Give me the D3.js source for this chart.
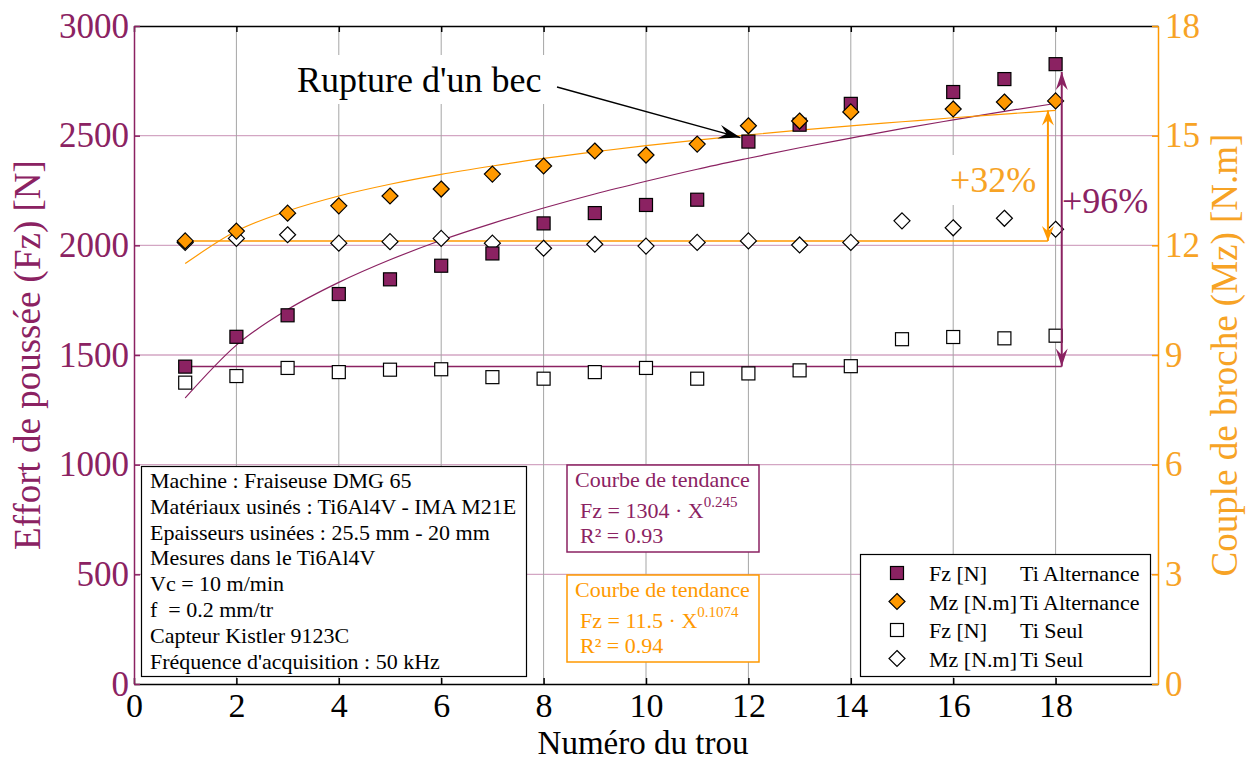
<!DOCTYPE html>
<html>
<head>
<meta charset="utf-8">
<script src="https://cdn.jsdelivr.net/npm/d3@7"></script>
<style>
body { margin: 0; background: #fff; }
text { font-family: "Liberation Serif", "Times New Roman", serif; }
</style>
</head>
<body>
<svg></svg>
<script>
const width = 1247;
const height = 762;

const purple = '#8b2262';
const orange = '#ff9900';
const orangeText = '#f7a325';

// data
const holes = [1, 2, 3, 4, 5, 6, 7, 8, 9, 10, 11, 12, 13, 14, 15, 16, 17, 18];
const altHoles = [1, 2, 3, 4, 5, 6, 7, 8, 9, 10, 11, 12, 13, 14, 16, 17, 18];
const fzAlt = [1447, 1583, 1681, 1778, 1845, 1907, 1963, 2100, 2147, 2184, 2208, 2473, 2550, 2645, 2699, 2758, 2826];
const mzAlt = [12.12, 12.39, 12.88, 13.08, 13.35, 13.54, 13.95, 14.17, 14.58, 14.47, 14.77, 15.27, 15.40, 15.65, 15.73, 15.92, 15.95];
const fzSeul = [1374, 1404, 1441, 1422, 1433, 1435, 1399, 1392, 1422, 1441, 1392, 1416, 1430, 1449, 1572, 1582, 1576, 1588];
const mzSeul = [12.08, 12.19, 12.29, 12.06, 12.10, 12.19, 12.06, 11.92, 12.03, 11.98, 12.08, 12.12, 12.01, 12.08, 12.67, 12.48, 12.74, 12.44];
// trend curves, read at each hole
const fzTrend = [1304, 1545, 1707, 1831, 1934, 2023, 2100, 2170, 2234, 2292, 2347, 2397, 2445, 2489, 2532, 2572, 2611, 2647];
const mzTrend = [11.50, 12.39, 12.94, 13.35, 13.67, 13.94, 14.17, 14.38, 14.56, 14.73, 14.88, 15.02, 15.15, 15.27, 15.38, 15.49, 15.59, 15.69];

const xTicks = [0, 2, 4, 6, 8, 10, 12, 14, 16, 18];
const fzTicks = [0, 500, 1000, 1500, 2000, 2500, 3000];
const mzTicks = [0, 3, 6, 9, 12, 15, 18];

const infoLines = [
    'Machine : Fraiseuse DMG 65',
    'Matériaux usinés : Ti6Al4V - IMA M21E',
    'Epaisseurs usinées : 25.5 mm - 20 mm',
    'Mesures dans le Ti6Al4V',
    'Vc = 10 m/min',
    'f  = 0.2 mm/tr',
    'Capteur Kistler 9123C',
    "Fréquence d'acquisition : 50 kHz"
];

const legendItems = [
    {shape: 'square', fill: purple, name: 'Fz [N]', group: 'Ti Alternance'},
    {shape: 'diamond', fill: orange, name: 'Mz [N.m]', group: 'Ti Alternance'},
    {shape: 'square', fill: '#fff', name: 'Fz [N]', group: 'Ti Seul'},
    {shape: 'diamond', fill: '#fff', name: 'Mz [N.m]', group: 'Ti Seul'}
];

const svg = d3.select('svg')
    .attr('width', width)
    .attr('height', height);

const x = d3.scaleLinear().domain([0, 20]).range([134, 1158]);
const yF = d3.scaleLinear().domain([0, 3000]).range([684, 26]);
const yM = d3.scaleLinear().domain([0, 18]).range([684, 26]);

// grid
svg.append('g').selectAll('line')
    .data(fzTicks.slice(1, -1))
    .enter().append('line')
    .attr('x1', x(0)).attr('x2', x(20))
    .attr('y1', d => yF(d)).attr('y2', d => yF(d))
    .attr('stroke', '#d3a6c3')
    .attr('stroke-width', 1.3);

svg.append('g').selectAll('line')
    .data(xTicks.slice(1))
    .enter().append('line')
    .attr('x1', d => x(d)).attr('x2', d => x(d))
    .attr('y1', yF(3000)).attr('y2', yF(0))
    .attr('stroke', '#a5a5a5')
    .attr('stroke-width', 1);

// axes
const bottomAxis = svg.append('g')
    .attr('transform', `translate(0,${yF(0)})`)
    .call(d3.axisBottom(x).tickValues(xTicks).tickSize(-6).tickSizeOuter(0).tickPadding(9));
bottomAxis.selectAll('text').attr('font-size', 34).attr('fill', '#000');
bottomAxis.selectAll('line, path').attr('stroke', '#000').attr('stroke-width', 1.5);

const topAxis = svg.append('g')
    .attr('transform', `translate(0,${yF(3000)})`)
    .call(d3.axisTop(x).tickValues(xTicks).tickSize(-6).tickSizeOuter(0).tickFormat(''));
topAxis.selectAll('line, path').attr('stroke', '#000').attr('stroke-width', 1.5);

const leftAxis = svg.append('g')
    .attr('transform', `translate(${x(0)},0)`)
    .call(d3.axisLeft(yF).tickValues(fzTicks).tickSize(-6).tickSizeOuter(0).tickPadding(5)
        .tickFormat(d3.format('d')));
leftAxis.selectAll('text').attr('font-size', 35).attr('fill', purple);
leftAxis.selectAll('line, path').attr('stroke', purple).attr('stroke-width', 1.5);

const rightAxis = svg.append('g')
    .attr('transform', `translate(${x(20)},0)`)
    .call(d3.axisRight(yM).tickValues(mzTicks).tickSize(-6).tickSizeOuter(0).tickPadding(7));
rightAxis.selectAll('text').attr('font-size', 35).attr('fill', orangeText);
rightAxis.selectAll('line, path').attr('stroke', orange).attr('stroke-width', 1.5);

svg.append('text')
    .attr('x', 643).attr('y', 754)
    .attr('text-anchor', 'middle')
    .attr('font-size', 33)
    .text('Numéro du trou');

svg.append('text')
    .attr('transform', `translate(40,${(yF(0) + yF(3000)) / 2}) rotate(-90)`)
    .attr('text-anchor', 'middle')
    .attr('font-size', 37)
    .attr('fill', purple)
    .text('Effort de poussée (Fz) [N]');

svg.append('text')
    .attr('transform', `translate(1237,${(yF(0) + yF(3000)) / 2}) rotate(-90)`)
    .attr('text-anchor', 'middle')
    .attr('font-size', 37)
    .attr('fill', orangeText)
    .text('Couple de broche (Mz) [N.m]');

// white backgrounds behind annotation labels
svg.append('rect').attr('x', 290).attr('y', 55).attr('width', 260).attr('height', 49).attr('fill', '#fff');
svg.append('rect').attr('x', 945).attr('y', 155).attr('width', 95).attr('height', 50).attr('fill', '#fff');

// reference lines for the percentages
svg.append('line')
    .attr('x1', x(1)).attr('x2', x(17.85))
    .attr('y1', yM(mzAlt[0])).attr('y2', yM(mzAlt[0]))
    .attr('stroke', orange).attr('stroke-width', 1.5);
svg.append('line')
    .attr('x1', x(1)).attr('x2', x(18.12))
    .attr('y1', yF(fzAlt[0])).attr('y2', yF(fzAlt[0]))
    .attr('stroke', purple).attr('stroke-width', 1.5);

// trend curves
svg.append('path')
    .datum(holes.map((h, i) => [h, fzTrend[i]]))
    .attr('d', d3.line().x(d => x(d[0])).y(d => yF(d[1])).curve(d3.curveMonotoneX))
    .attr('fill', 'none').attr('stroke', purple).attr('stroke-width', 1.2);
svg.append('path')
    .datum(holes.map((h, i) => [h, mzTrend[i]]))
    .attr('d', d3.line().x(d => x(d[0])).y(d => yM(d[1])).curve(d3.curveMonotoneX))
    .attr('fill', 'none').attr('stroke', orange).attr('stroke-width', 1.2);

// markers
const sq = 13;
const diamond = 'M0,-8L8,0L0,8L-8,0Z';

svg.append('g').selectAll('rect')
    .data(holes.map((h, i) => [h, fzSeul[i]]))
    .enter().append('rect')
    .attr('x', d => x(d[0]) - sq / 2).attr('y', d => yF(d[1]) - sq / 2)
    .attr('width', sq).attr('height', sq)
    .attr('fill', '#fff').attr('stroke', '#000').attr('stroke-width', 1.2);

svg.append('g').selectAll('path')
    .data(holes.map((h, i) => [h, mzSeul[i]]))
    .enter().append('path')
    .attr('transform', d => `translate(${x(d[0])},${yM(d[1])})`)
    .attr('d', diamond)
    .attr('fill', '#fff').attr('stroke', '#000').attr('stroke-width', 1.2);

svg.append('g').selectAll('rect')
    .data(altHoles.map((h, i) => [h, fzAlt[i]]))
    .enter().append('rect')
    .attr('x', d => x(d[0]) - sq / 2).attr('y', d => yF(d[1]) - sq / 2)
    .attr('width', sq).attr('height', sq)
    .attr('fill', purple).attr('stroke', '#000').attr('stroke-width', 1.2);

svg.append('g').selectAll('path')
    .data(altHoles.map((h, i) => [h, mzAlt[i]]))
    .enter().append('path')
    .attr('transform', d => `translate(${x(d[0])},${yM(d[1])})`)
    .attr('d', diamond)
    .attr('fill', orange).attr('stroke', '#000').attr('stroke-width', 1.2);

// arrows
const head = (px, py, angle, len, w, color) => {
    svg.append('path')
        .attr('transform', `translate(${px},${py}) rotate(${angle})`)
        .attr('d', `M0,0L${-len},${-w}L${-len * 0.65},0L${-len},${w}Z`)
        .attr('fill', color);
};

const ox = x(17.85);
svg.append('line')
    .attr('x1', ox).attr('x2', ox)
    .attr('y1', yM(mzTrend[17])).attr('y2', yM(mzAlt[0]))
    .attr('stroke', orange).attr('stroke-width', 2);
head(ox, yM(mzTrend[17]), -90, 15, 6, orange);
head(ox, yM(mzAlt[0]), 90, 15, 6, orange);

const px = x(18.12);
svg.append('line')
    .attr('x1', px).attr('x2', px)
    .attr('y1', yF(2790)).attr('y2', yF(fzAlt[0]))
    .attr('stroke', purple).attr('stroke-width', 2);
head(px, yF(2790), -90, 18, 6, purple);
head(px, yF(fzAlt[0]), 90, 18, 6, purple);

svg.append('text')
    .attr('x', 950).attr('y', 192)
    .attr('font-size', 36).attr('fill', orangeText)
    .text('+32%');
svg.append('text')
    .attr('x', 1062).attr('y', 213)
    .attr('font-size', 36).attr('fill', purple)
    .text('+96%');

// rupture annotation
svg.append('text')
    .attr('x', 297).attr('y', 92)
    .attr('font-size', 36)
    .text("Rupture d'un bec");
const tipX = x(12) - 8;
const tipY = yF(fzAlt[11]) - 4;
svg.append('line')
    .attr('x1', 557).attr('y1', 87)
    .attr('x2', tipX).attr('y2', tipY)
    .attr('stroke', '#000').attr('stroke-width', 1.3);
head(tipX, tipY, Math.atan2(tipY - 87, tipX - 557) * 180 / Math.PI, 22, 7, '#000');

// info box
const info = svg.append('g');
info.append('rect')
    .attr('x', 141.5).attr('y', 466.5).attr('width', 385).attr('height', 210)
    .attr('fill', '#fff').attr('stroke', '#000').attr('stroke-width', 1.2);
info.selectAll('text')
    .data(infoLines)
    .enter().append('text')
    .attr('x', 150)
    .attr('y', (d, i) => 488 + i * 25.8)
    .attr('font-size', 22)
    .attr('xml:space', 'preserve')
    .text(d => d);

// trend boxes
const trendBox = (y0, color, coef, expo, r2) => {
    const g = svg.append('g');
    g.append('rect')
        .attr('x', 567).attr('y', y0).attr('width', 192).attr('height', 87)
        .attr('fill', '#fff').attr('stroke', color).attr('stroke-width', 1.5);
    g.append('text').attr('x', 575).attr('y', y0 + 22)
        .attr('font-size', 22).attr('fill', color).text('Courbe de tendance');
    const t = g.append('text').attr('x', 580).attr('y', y0 + 53)
        .attr('font-size', 22).attr('fill', color);
    t.append('tspan').text(`Fz = ${coef} · X`);
    t.append('tspan').attr('dy', -11).attr('font-size', 15).text(expo);
    g.append('text').attr('x', 580).attr('y', y0 + 78)
        .attr('font-size', 22).attr('fill', color).text(`R² = ${r2}`);
};
trendBox(465, purple, '1304', '0.245', '0.93');
trendBox(575, orange, '11.5', '0.1074', '0.94');

// legend
const legend = svg.append('g');
legend.append('rect')
    .attr('x', 860.5).attr('y', 554.5).attr('width', 290).attr('height', 122)
    .attr('fill', '#fff').attr('stroke', '#000').attr('stroke-width', 1.2);
const rows = legend.selectAll('g.row')
    .data(legendItems)
    .enter().append('g')
    .attr('class', 'row')
    .attr('transform', (d, i) => `translate(0,${573 + i * 28.5})`);
rows.filter(d => d.shape === 'square').append('rect')
    .attr('x', 897 - sq / 2).attr('y', -sq / 2).attr('width', sq).attr('height', sq)
    .attr('fill', d => d.fill).attr('stroke', '#000').attr('stroke-width', 1.2);
rows.filter(d => d.shape === 'diamond').append('path')
    .attr('transform', 'translate(897,0)')
    .attr('d', diamond)
    .attr('fill', d => d.fill).attr('stroke', '#000').attr('stroke-width', 1.2);
rows.append('text').attr('x', 929).attr('y', 8).attr('font-size', 22).text(d => d.name);
rows.append('text').attr('x', 1020).attr('y', 8).attr('font-size', 22).text(d => d.group);
</script>
</body>
</html>
